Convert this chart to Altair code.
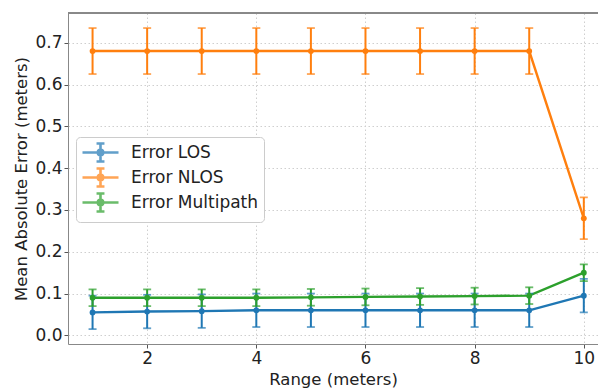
import altair as alt
import pandas as pd

# ---- data ----
ranges = [1, 2, 3, 4, 5, 6, 7, 8, 9, 10]
series_names = ["Error LOS", "Error NLOS", "Error Multipath"]
series_colors = ["#1f77b4", "#ff7f0e", "#2ca02c"]

los_mean = [0.055, 0.057, 0.058, 0.060, 0.060, 0.060, 0.060, 0.060, 0.060, 0.095]
los_err = [0.040, 0.040, 0.040, 0.040, 0.040, 0.040, 0.040, 0.040, 0.040, 0.040]
nlos_mean = [0.680, 0.680, 0.680, 0.680, 0.680, 0.680, 0.680, 0.680, 0.680, 0.280]
nlos_err = [0.055, 0.055, 0.055, 0.055, 0.055, 0.055, 0.055, 0.055, 0.055, 0.050]
mp_mean = [0.090, 0.090, 0.090, 0.090, 0.091, 0.092, 0.093, 0.094, 0.095, 0.150]
mp_err = [0.020, 0.020, 0.020, 0.020, 0.020, 0.020, 0.020, 0.020, 0.020, 0.020]

x_ticks = [2, 4, 6, 8, 10]
y_ticks = [0.0, 0.1, 0.2, 0.3, 0.4, 0.5, 0.6, 0.7]
x_domain = [0.55, 10.26]
y_domain = [-0.0206, 0.771]

rows = []
for name, means, errs in zip(series_names, [los_mean, nlos_mean, mp_mean], [los_err, nlos_err, mp_err]):
    for r, m, e in zip(ranges, means, errs):
        rows.append({"range": r, "series": name, "mae": m, "err": e})
df = pd.DataFrame(rows)

FONT = "DejaVu Sans"
W, H = 530, 331

legend_symbol = (
    "M-2,0H2"
    "M0,-1V1"
    "M-0.44,-1H0.44"
    "M-0.44,1H0.44"
    "M0.3,0A0.3,0.3 0 1,0 -0.3,0A0.3,0.3 0 1,0 0.3,0"
    "M0.15,0A0.15,0.15 0 1,0 -0.15,0A0.15,0.15 0 1,0 0.15,0"
)

xs = alt.Scale(domain=x_domain, nice=False, zero=False)
ys = alt.Scale(domain=y_domain, nice=False, zero=False)
cs = alt.Scale(domain=series_names, range=series_colors)
color_plain = alt.Color("series:N", scale=cs)

base = alt.Chart(df).transform_calculate(
    lo="datum.mae - datum.err", hi="datum.mae + datum.err"
)

x_enc = alt.X(
    "range:Q", scale=xs, title="Range (meters)",
    axis=alt.Axis(values=x_ticks, format="d"),
)
y_enc = alt.Y(
    "mae:Q", scale=ys, title="Mean Absolute Error (meters)",
    axis=alt.Axis(values=y_ticks, format=".1f"),
)

bars = base.mark_rule(strokeWidth=2).encode(
    x=x_enc,
    y=alt.Y("lo:Q", scale=ys),
    y2="hi:Q",
    color=color_plain,
)
cap_lo = base.mark_tick(orient="horizontal", size=8, thickness=1.8).encode(
    x="range:Q", y=alt.Y("lo:Q", scale=ys), color=color_plain,
)
cap_hi = base.mark_tick(orient="horizontal", size=8, thickness=1.8).encode(
    x="range:Q", y=alt.Y("hi:Q", scale=ys), color=color_plain,
)
lines = base.mark_line(strokeWidth=2.4).encode(
    x=x_enc, y=y_enc,
    color=alt.Color(
        "series:N", scale=cs,
        legend=alt.Legend(
            title=None, orient="none", legendX=8, legendY=124,
            symbolType=legend_symbol, symbolSize=324, symbolStrokeWidth=2.6,
            symbolOpacity=1, symbolOffset=9, labelOffset=20, padding=5,
            rowPadding=-7,
            labelFont=FONT, labelFontSize=17, labelColor="#222222",
            fillColor="white", strokeColor="#cccccc", cornerRadius=4,
        ),
    ),
)
points = base.mark_point(filled=True, size=34, opacity=1).encode(
    x="range:Q", y="mae:Q", color=color_plain,
)
top_edge = alt.Chart(df).mark_rule(color="#888888", strokeWidth=1).encode(
    x=alt.value(0), x2=alt.value(W), y=alt.value(0)
)

chart = alt.layer(lines, bars, cap_lo, cap_hi, points, top_edge).properties(
    width=W, height=H,
    autosize=alt.AutoSizeParams(type="none"),
    padding={"left": 60, "top": 5, "right": 0, "bottom": 50},
).configure_view(stroke=None).configure_axis(
    labelFont=FONT, titleFont=FONT, labelFontSize=17, titleFontSize=16.5,
    titleFontWeight="normal", labelColor="#222222", titleColor="#222222",
    domainColor="#888888", domainWidth=1, tickColor="#555555", tickSize=4,
    labelPadding=2, gridColor="#cfcfcf", gridDash=[1.5, 2.5], gridWidth=1,
).configure_axisY(titlePadding=5).configure_axisX(titlePadding=5)

chart.save("out.html", embed_options={"renderer": "svg", "actions": False})
